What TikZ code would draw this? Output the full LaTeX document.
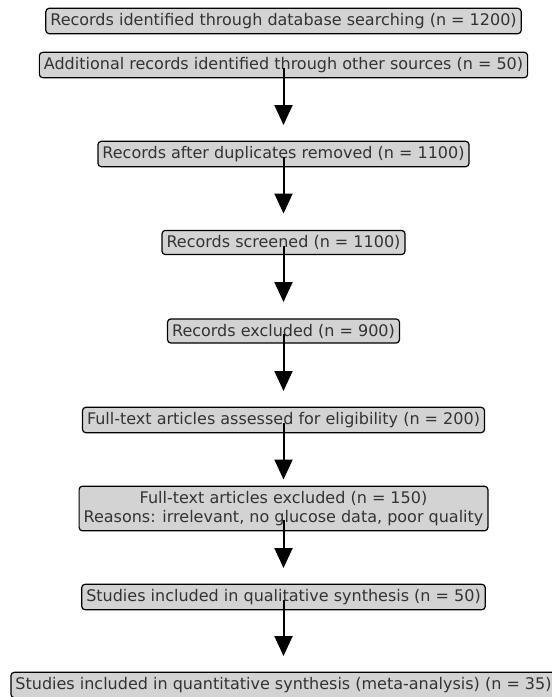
\documentclass[tikz,border=0pt]{standalone}
\usepackage{fontspec}
\setmainfont{DejaVu Sans}
\usetikzlibrary{arrows.meta}
\definecolor{boxgray}{HTML}{D3D3D3}

\begin{document}
\begin{tikzpicture}[x=0.75pt,y=-0.75pt,
 box/.style={draw=black,fill=boxgray,rounded corners=2.5pt,line width=0.9pt,
   inner xsep=3.4pt,inner ysep=3.7pt,text=black!80,align=center,
   font=\fontsize{12}{14.4}\selectfont},
 flow/.style={line width=1.5pt,-{Triangle[width=13.5pt,length=15pt]},
   shorten <=2.25pt,shorten >=21.75pt}]
 \useasboundingbox (0,0) rectangle (552,697);
 \clip (0,0) rectangle (552,697);
 \node[box] (found) at (283.5,21) {Records identified through database searching (n = 1200)};
 \node[box] (other) at (283.5,65) {Additional records identified through other sources (n = 50)};
 \node[box] (dedup) at (283.5,154) {Records after duplicates removed (n = 1100)};
 \node[box] (screen) at (283.5,242.5) {Records screened (n = 1100)};
 \node[box] (excl) at (283.5,331) {Records excluded (n = 900)};
 \node[box] (full) at (283.5,420) {Full-text articles assessed for eligibility (n = 200)};
 \node[box] (fullex) at (283.5,508.5) {Full-text articles excluded (n = 150)\\Reasons: irrelevant, no glucose data, poor quality};
 \node[box] (qual) at (283.5,597) {Studies included in qualitative synthesis (n = 50)};
 \node[box] (quant) at (283.5,685) {Studies included in quantitative synthesis (meta-analysis) (n = 35)};
 % arrows
 \foreach \a/\b in {other/dedup,dedup/screen,screen/excl,excl/full,qual/quant}
   {\draw[flow] (\a.center) -- (\b.center);}
 \draw[flow] (full.center) -- (fullex.center);
 \draw[flow,shorten <=8.6pt] (fullex.center) -- (qual.center);
\end{tikzpicture}
\end{document}
